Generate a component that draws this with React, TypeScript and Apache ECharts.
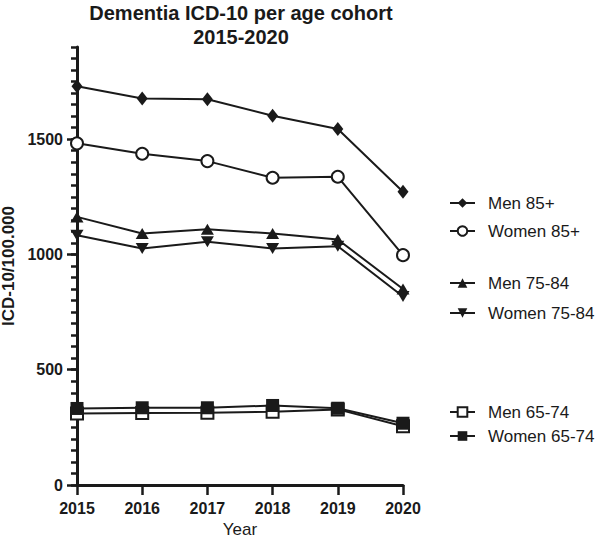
import React, { useEffect, useRef } from "react";
import * as echarts from "echarts";

const years = ["2015", "2016", "2017", "2018", "2019", "2020"];
const yTickValues = [0, 500, 1000, 1500];

const seriesNames = ["Men 85+", "Women 85+", "Men 75-84", "Women 75-84", "Men 65-74", "Women 65-74"];
const men85 = [1730, 1677, 1673, 1602, 1544, 1272];
const women85 = [1482, 1437, 1405, 1333, 1337, 997];
const men7584 = [1163, 1091, 1109, 1091, 1065, 850];
const women7584 = [1083, 1026, 1055, 1026, 1036, 818];
const men6574 = [310, 312, 313, 318, 328, 255];
const women6574 = [332, 335, 335, 345, 333, 268];

const INK = "#1a1a1a";
const SANS = "'Liberation Sans', Arial, Helvetica, sans-serif";

const DIAMOND = "path://M0,-7 L5,0 L0,7 L-5,0 Z";
const TRI_UP = "path://M6,0 L12,10 L0,10 Z";
const TRI_DOWN = "path://M0,0 L12,0 L6,10 Z";

function mkSeries(name: string, data: number[], symbol: string, size: any, fill: string, border: number) {
  return {
    name,
    type: "line",
    data,
    xAxisIndex: 0,
    yAxisIndex: 0,
    symbol,
    symbolSize: size,
    showSymbol: true,
    lineStyle: { color: INK, width: 2 },
    itemStyle: { color: fill, borderColor: INK, borderWidth: border },
    emphasis: { disabled: true },
  };
}

const legendCenters = [203, 231, 283, 313, 412, 436];

export default function App() {
  const ref = useRef<HTMLDivElement>(null);
  useEffect(() => {
    document.body.style.margin = "0";
    if (!ref.current) return;
    const chart = echarts.init(ref.current, null, { renderer: "svg" });
    const tickStyle = { color: INK, width: 2.5 };
    const option: any = {
      animation: false,
      backgroundColor: "#ffffff",
      title: {
        text: "Dementia ICD-10 per age cohort\n2015-2020",
        left: 241,
        top: 1,
        padding: 0,
        textAlign: "center",
        textStyle: {
          fontFamily: SANS,
          fontWeight: "bold",
          fontSize: 20,
          lineHeight: 24,
          color: INK,
        },
      },
      legend: seriesNames.map((n, i) => ({
        data: [n],
        left: 449,
        top: legendCenters[i] - 8.5,
        padding: 0,
        itemWidth: 25,
        itemHeight: 12,
        selectedMode: false,
        textStyle: {
          fontFamily: SANS,
          fontSize: 17,
          lineHeight: 17,
          color: INK,
          padding: [0, 0, 0, 8],
        },
      })),
      grid: { left: 77, right: 194, top: 47, bottom: 56, containLabel: false, outerBoundsMode: "none" },
      xAxis: {
        type: "category",
        data: years,
        boundaryGap: false,
        axisLine: { show: true, lineStyle: { color: INK, width: 3 } },
        axisTick: { show: true, length: 10, alignWithLabel: true, lineStyle: tickStyle },
        axisLabel: {
          fontFamily: SANS,
          fontWeight: "bold",
          fontSize: 16,
          color: INK,
          margin: 15,
          interval: 0,
        },
        splitLine: { show: false },
        name: "Year",
        nameLocation: "middle",
        nameGap: 33,
        nameTextStyle: { fontFamily: SANS, fontSize: 17, color: INK },
      },
      yAxis: [
        {
          type: "value",
          min: 0,
          max: 1900,
          interval: 50,
          position: "left",
          axisLine: { show: true, lineStyle: { color: INK, width: 3 } },
          axisTick: { show: true, length: 6, lineStyle: tickStyle },
          axisLabel: { show: false },
          splitLine: { show: false },
          name: "ICD-10/100.000",
          nameLocation: "middle",
          nameGap: 60,
          nameTextStyle: { fontFamily: SANS, fontWeight: "bold", fontSize: 17, color: INK },
        },
        {
          type: "value",
          min: 0,
          max: 1900,
          interval: 500,
          position: "left",
          axisLine: { show: false },
          axisTick: { show: true, length: 10, customValues: yTickValues, lineStyle: tickStyle },
          axisLabel: {
            customValues: yTickValues,
            formatter: (v: number) => String(v),
            fontFamily: SANS,
            fontWeight: "bold",
            fontSize: 16,
            color: INK,
            margin: 14,
          },
          splitLine: { show: false },
        },
      ],
      series: [
        mkSeries(seriesNames[0], men85, DIAMOND, [11, 14], INK, 0),
        mkSeries(seriesNames[1], women85, "circle", 12, "#ffffff", 2),
        mkSeries(seriesNames[2], men7584, TRI_UP, [13, 11], INK, 0),
        mkSeries(seriesNames[3], women7584, TRI_DOWN, [13, 11], INK, 0),
        mkSeries(seriesNames[4], men6574, "rect", 12, "#ffffff", 2),
        mkSeries(seriesNames[5], women6574, "rect", 13, INK, 0),
      ],
    };
    chart.setOption(option);
    return () => chart.dispose();
  }, []);
  return <div ref={ref} style={{ width: 597, height: 541 }} />;
}
